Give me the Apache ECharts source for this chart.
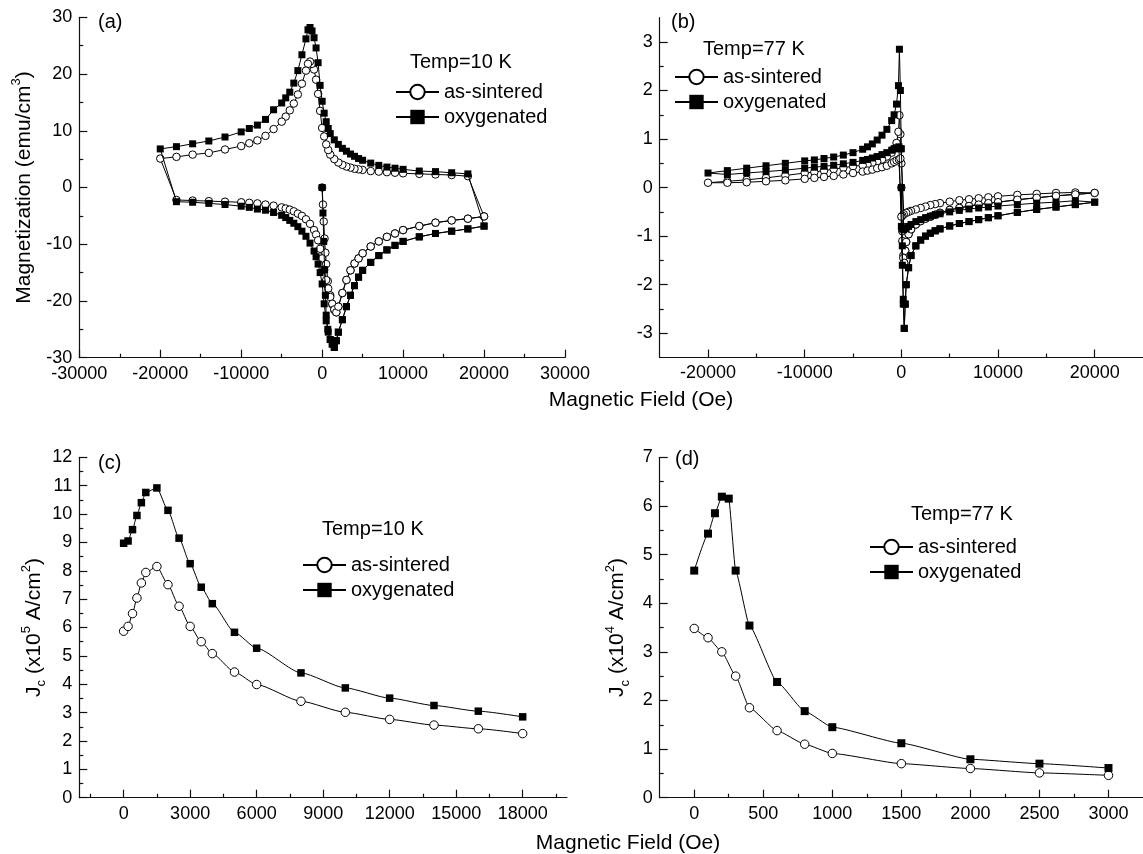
<!DOCTYPE html>
<html><head><meta charset="utf-8">
<script src="https://cdn.jsdelivr.net/npm/echarts@6.0.0/dist/echarts.min.js"></script>
<style>html,body{margin:0;padding:0;background:#fff}#chart{width:1143px;height:854px}</style>
</head><body><div id="chart"></div>
<script>
// ---------- Panel (a): 10 K hysteresis loops (field Oe, magnetization emu/cm3) ----------
const aVirginH    = [0,100,200,300,400,500,700,1000,1250,1500];
const aLowRightH  = [1750,2000,2500,3000,3500,4000,4500,5000,6000,7000,8000,9000,10000,12000,14000,16000,18000,20000];
const aUpperH     = [18000,16000,14000,12000,10000,9000,8000,7000,6000,5000,4500,4000,3500,3000,2500,2000,1500,1000,750,500,250,0,-250,-500,-750,-1000,-1250,-1500,-1750,-2000,-2500,-3000,-3500,-4000,-4500,-5000,-6000,-7000,-8000,-9000,-10000,-12000,-14000,-16000,-18000,-20000];
const aLowLeftH   = [-18000,-16000,-14000,-12000,-10000,-9000,-8000,-7000,-6000,-5000,-4500,-4000,-3500,-3000,-2500,-2000,-1500,-1000,-750,-500,-250,0,250,500,750,1000,1250,1500];

const aOxyVirgin   = [0,-4.5,-9.5,-14.5,-19.0,-22.5,-25.0,-26.8,-27.6,-28.2];
const aOxyLowRight = [-27.0,-25.5,-23.3,-21.0,-19.0,-17.3,-15.8,-14.6,-13.2,-12.0,-11.0,-10.2,-9.5,-8.7,-8.1,-7.7,-7.3,-6.8];
const aOxyUpper    = [2.4,2.6,2.8,2.9,3.2,3.4,3.6,3.9,4.3,4.8,5.1,5.5,5.9,6.4,6.9,7.6,8.4,9.5,10.4,11.6,13.1,15.2,18.0,22.0,24.6,26.4,27.6,28.2,27.8,26.2,23.4,20.6,18.4,16.8,15.8,14.9,13.7,12.0,11.0,10.4,9.8,8.9,8.2,7.7,7.2,6.8];
const aOxyLowLeft  = [-2.5,-2.6,-2.8,-3.0,-3.3,-3.5,-3.8,-4.0,-4.4,-4.9,-5.3,-5.8,-6.3,-6.9,-7.7,-8.6,-9.8,-11.2,-12.2,-13.5,-15.0,-17.0,-20.5,-23.5,-25.5,-26.8,-27.6,-28.2];

const aAsVirgin    = [0,-3,-6,-9,-11.5,-13.5,-16.5,-19,-20.6,-21.6];
const aAsLowRight  = [-22.0,-21.0,-18.6,-16.3,-14.6,-13.4,-12.5,-11.6,-10.4,-9.5,-8.7,-8.1,-7.5,-6.8,-6.2,-5.8,-5.5,-5.1];
const aAsUpper     = [2.0,2.2,2.3,2.4,2.5,2.6,2.7,2.8,2.9,3.1,3.2,3.3,3.5,3.7,4.0,4.4,5.0,5.8,6.6,7.6,9.0,10.5,13.5,16.5,19.0,20.8,21.8,22.2,21.8,20.6,18.3,16.4,14.8,13.6,12.5,11.6,10.3,9.1,8.3,7.8,7.3,6.7,6.1,5.8,5.4,5.1];
const aAsLowLeft   = [-2.2,-2.3,-2.4,-2.5,-2.6,-2.7,-2.8,-3.0,-3.2,-3.5,-3.7,-3.9,-4.2,-4.6,-5.0,-5.6,-6.4,-7.5,-8.3,-9.3,-10.8,-12.5,-14.5,-16.3,-17.8,-19.3,-20.5,-21.5];

// ---------- Panel (b): 77 K hysteresis loops ----------
const bVirginH   = [0,100,200];
const bLowRightH = [300,400,500,750,1000,1500,2000,2500,3000,3500,4000,5000,6000,7000,8000,9000,10000,12000,14000,16000,18000,20000];
const bUpperH    = [18000,16000,14000,12000,10000,9000,8000,7000,6000,5000,4000,3500,3000,2500,2000,1500,1000,750,500,250,100,0,-100,-200,-300,-500,-750,-1000,-1500,-2000,-2500,-3000,-3500,-4000,-5000,-6000,-7000,-8000,-9000,-10000,-12000,-14000,-16000,-18000,-20000];
const bLowLeftH  = [-18000,-16000,-14000,-12000,-10000,-9000,-8000,-7000,-6000,-5000,-4000,-3500,-3000,-2500,-2000,-1500,-1000,-750,-500,-250,-100,0,100,200];

const bOxyVirgin   = [0,-1.2,-2.3];
const bOxyLowRight = [-2.9,-2.4,-2.0,-1.65,-1.4,-1.2,-1.08,-1.0,-0.94,-0.89,-0.85,-0.79,-0.74,-0.7,-0.66,-0.62,-0.58,-0.51,-0.45,-0.4,-0.35,-0.3];
const bOxyUpper    = [-0.27,-0.3,-0.32,-0.35,-0.38,-0.4,-0.42,-0.44,-0.47,-0.5,-0.54,-0.56,-0.59,-0.62,-0.66,-0.7,-0.76,-0.8,-0.84,-0.87,-0.85,0.8,2.0,2.85,2.1,1.72,1.5,1.38,1.2,1.08,0.98,0.9,0.84,0.79,0.72,0.67,0.63,0.6,0.57,0.55,0.5,0.45,0.4,0.35,0.3];
const bOxyLowLeft  = [0.27,0.3,0.33,0.36,0.4,0.42,0.44,0.46,0.49,0.52,0.56,0.58,0.61,0.64,0.68,0.72,0.77,0.8,0.82,0.84,0.8,-0.8,-1.6,-2.4];

const bAsVirgin    = [0,-0.9,-1.4];
const bAsLowRight  = [-1.55,-1.3,-1.12,-0.96,-0.86,-0.76,-0.69,-0.64,-0.6,-0.56,-0.52,-0.46,-0.42,-0.38,-0.35,-0.32,-0.3,-0.25,-0.21,-0.17,-0.14,-0.11];
const bAsUpper     = [-0.1,-0.11,-0.13,-0.15,-0.18,-0.2,-0.22,-0.24,-0.26,-0.29,-0.32,-0.34,-0.36,-0.39,-0.42,-0.45,-0.48,-0.5,-0.52,-0.55,-0.58,0.5,1.1,1.49,1.15,0.92,0.8,0.72,0.64,0.58,0.54,0.51,0.48,0.46,0.44,0.41,0.38,0.35,0.32,0.3,0.25,0.2,0.16,0.13,0.1];
const bAsLowLeft   = [0.1,0.11,0.13,0.15,0.18,0.2,0.22,0.24,0.27,0.3,0.33,0.35,0.37,0.4,0.42,0.45,0.5,0.53,0.56,0.58,0.6,-0.6,-1.1,-1.45];

// ---------- Panel (c): Jc at 10 K (x10^5 A/cm2) ----------
const cField   = [0,200,400,600,800,1000,1500,2000,2500,3000,3500,4000,5000,6000,8000,10000,12000,14000,16000,18000];
const cAsJc    = [5.87,6.04,6.49,7.04,7.57,7.94,8.15,7.51,6.75,6.04,5.5,5.08,4.43,3.99,3.4,3.01,2.76,2.56,2.43,2.26];
const cOxyJc   = [8.97,9.05,9.45,9.95,10.4,10.76,10.92,10.13,9.15,8.25,7.42,6.84,5.83,5.27,4.4,3.87,3.51,3.25,3.05,2.85];

// ---------- Panel (d): Jc at 77 K (x10^4 A/cm2) ----------
const dAsField = [0,100,200,300,400,600,800,1000,1500,2000,2500,3000];
const dAsJc    = [3.48,3.29,3.0,2.5,1.85,1.38,1.1,0.91,0.7,0.6,0.51,0.46];
const dOxyField= [0,100,150,200,250,300,400,600,800,1000,1500,2000,2500,3000];
const dOxyJc   = [4.67,5.43,5.85,6.19,6.15,4.67,3.54,2.38,1.78,1.45,1.12,0.79,0.7,0.61];

// ---------- Tick values ----------
const aXMajor = [-30000,-20000,-10000,0,10000,20000,30000];
const aXMinor = [-25000,-15000,-5000,5000,15000,25000];
const aYMajor = [-30,-20,-10,0,10,20,30];
const aYMinor = [-25,-15,-5,5,15,25];
const bXMajor = [-20000,-10000,0,10000,20000];
const bXMinor = [-15000,-5000,5000,15000];
const bYMajor = [-3,-2,-1,0,1,2,3];
const bYMinor = [-2.5,-1.5,-0.5,0.5,1.5,2.5];
const cXMajor = [0,3000,6000,9000,12000,15000,18000];
const cXMinor = [-1500,1500,4500,7500,10500,13500,16500,19500];
const cYMajor = [0,1,2,3,4,5,6,7,8,9,10,11,12];
const cYMinor = [0.5,1.5,2.5,3.5,4.5,5.5,6.5,7.5,8.5,9.5,10.5,11.5];
const dXMajor = [0,500,1000,1500,2000,2500,3000];
const dXMinor = [250,750,1250,1750,2250,2750];
const dYMajor = [0,1,2,3,4,5,6,7];
const dYMinor = [0.5,1.5,2.5,3.5,4.5,5.5,6.5];

const seriesNames = ['as-sintered','oxygenated'];

// ---------- helpers ----------
const FONT = '"Liberation Sans", Arial, Helvetica, sans-serif';
function path(segs){const out=[];segs.forEach(([H,M])=>H.forEach((h,i)=>out.push([h,M[i]])));return out;}
function zip(X,Y){return X.map((x,i)=>[x,Y[i]]);}

const grids = [
  {left:79.3, top:17.3, right:578, bottom:496.3},
  {left:659.7, top:17.7, right:-3, bottom:496.5},
  {left:79.3, top:457.3, right:576, bottom:56.3},
  {left:659.7, top:457.3, right:-3, bottom:56.3}
];
const ranges = [
  {x:[-30000,30000], y:[-30,30], xM:aXMajor, xm:aXMinor, yM:aYMajor, ym:aYMinor},
  {x:[-25000,25000], y:[-3.5,3.5], xM:bXMajor, xm:bXMinor, yM:bYMajor, ym:bYMinor},
  {x:[-2000,20000], y:[0,12], xM:cXMajor, xm:cXMinor, yM:cYMajor, ym:cYMinor},
  {x:[-250,3250], y:[0,7], xM:dXMajor, xm:dXMinor, yM:dYMajor, ym:dYMinor}
];

function mainAxis(gi, range, major, extra){
  return Object.assign({
    type:'value', gridIndex:gi, min:range[0], max:range[1],
    axisLine:{show:true, onZero:false, lineStyle:{color:'#111', width:1.2}},
    axisTick:{show:true, inside:true, length:8, customValues:major, lineStyle:{color:'#111', width:1.2}},
    axisLabel:{show:true, customValues:major, color:'#000', fontSize:18, fontFamily:FONT, margin:7,
               formatter:v=>String(v)},
    splitLine:{show:false}
  }, extra||{});
}
function minorAxis(gi, range, minor){
  return {type:'value', gridIndex:gi, min:range[0], max:range[1],
    axisLine:{show:false, onZero:false},
    axisTick:{show:true, inside:true, length:4, customValues:minor, lineStyle:{color:'#111', width:1.2}},
    axisLabel:{show:false}, splitLine:{show:false}};
}

const richBase = {
  m:{fontSize:21, fontFamily:FONT, color:'#000', lineHeight:28},
  sup:{fontSize:13, fontFamily:FONT, color:'#000', lineHeight:14, verticalAlign:'top'},
  sub:{fontSize:13, fontFamily:FONT, color:'#000', lineHeight:14, verticalAlign:'bottom'}
};
function yName(text, gap){
  return {name:text, nameLocation:'middle', nameRotate:90, nameGap:gap,
    nameTextStyle:{fontSize:21, fontFamily:FONT, color:'#000', rich:richBase}};
}

const xAxes=[], yAxes=[], allGrids=[];
grids.forEach(g=>allGrids.push(Object.assign({containLabel:false}, g)));
grids.forEach(g=>allGrids.push(Object.assign({containLabel:false}, g)));
const yNames = [
  yName('{m|Magnetization (emu/cm}{sup|3}{m|)}', 41),
  {},
  yName('{m|J}{sub|c}{m| (x10}{sup|5}{m| A/cm}{sup|2}{m|)}', 28),
  yName('{m|J}{sub|c}{m| (x10}{sup|4}{m| A/cm}{sup|2}{m|)}', 28)
];
ranges.forEach((r,i)=>{ xAxes.push(mainAxis(i, r.x, r.xM)); yAxes.push(mainAxis(i, r.y, r.yM, yNames[i])); });
ranges.forEach((r,i)=>{ xAxes.push(minorAxis(i+4, r.x, r.xm)); yAxes.push(minorAxis(i+4, r.y, r.ym)); });

function asSeries(idx, data, sz, smooth){
  return {name:seriesNames[0], type:'line', xAxisIndex:idx, yAxisIndex:idx, data,
    symbol:'circle', symbolSize:sz, showSymbol:true, smooth:smooth||false, smoothMonotone:'x',
    lineStyle:{color:'#000', width:1}, itemStyle:{color:'#fff', borderColor:'#000', borderWidth:1},
    emphasis:{disabled:true}, z:2, animation:false, clip:true};
}
function oxySeries(idx, data, sz, smooth){
  return {name:seriesNames[1], type:'line', xAxisIndex:idx, yAxisIndex:idx, data,
    symbol:'rect', symbolSize:sz, showSymbol:true, smooth:smooth||false, smoothMonotone:'x',
    lineStyle:{color:'#000', width:1}, itemStyle:{color:'#000', borderColor:'#000', borderWidth:0},
    emphasis:{disabled:true}, z:3, animation:false, clip:true};
}

const series = [
  asSeries(0, path([[aVirginH,aAsVirgin],[aLowRightH,aAsLowRight],[aUpperH,aAsUpper],[aLowLeftH,aAsLowLeft],[aLowRightH,aAsLowRight]]), 7.5),
  oxySeries(0, path([[aVirginH,aOxyVirgin],[aLowRightH,aOxyLowRight],[aUpperH,aOxyUpper],[aLowLeftH,aOxyLowLeft],[aLowRightH,aOxyLowRight]]), 7),
  asSeries(1, path([[bVirginH,bAsVirgin],[bLowRightH,bAsLowRight],[bUpperH,bAsUpper],[bLowLeftH,bAsLowLeft],[bLowRightH,bAsLowRight]]), 7.5),
  oxySeries(1, path([[bVirginH,bOxyVirgin],[bLowRightH,bOxyLowRight],[bUpperH,bOxyUpper],[bLowLeftH,bOxyLowLeft],[bLowRightH,bOxyLowRight]]), 7),
  asSeries(2, zip(cField,cAsJc), 8.5, 0.2),
  oxySeries(2, zip(cField,cOxyJc), 7.5, 0.2),
  asSeries(3, zip(dAsField,dAsJc), 8.5, 0.15),
  oxySeries(3, zip(dOxyField,dOxyJc), 8, 0.15)
];

function legendAt(left, top){
  return {data:seriesNames, left, top, orient:'vertical', itemWidth:43, itemHeight:18, itemGap:5,
    padding:0, selectedMode:false, textStyle:{fontSize:20, fontFamily:FONT, color:'#000'}};
}
function txt(text, x, y, size, align){
  return {type:'text', x, y, silent:true, style:{text, fontSize:size, fontFamily:FONT, fill:'#000',
    align:align||'left', verticalAlign:'middle'}};
}

const option = {
  backgroundColor:'#fff',
  animation:false,
  grid: allGrids,
  xAxis: xAxes,
  yAxis: yAxes,
  legend: [legendAt(395,82), legendAt(674,67), legendAt(302,555), legendAt(869,537)],
  graphic: [
    txt('(a)', 98, 22, 20), txt('(b)', 671, 22, 20), txt('(c)', 98, 463, 20), txt('(d)', 675, 459, 20),
    txt('Temp=10 K', 410, 62, 20), txt('Temp=77 K', 703, 49, 20),
    txt('Temp=10 K', 322, 529, 20), txt('Temp=77 K', 911, 514, 20),
    txt('Magnetic Field (Oe)', 641, 400, 21, 'center'),
    txt('Magnetic Field (Oe)', 628, 843, 21, 'center')
  ],
  series
};
const chart = echarts.init(document.getElementById('chart'), null, {renderer:'canvas'});
chart.setOption(option);
</script></body></html>
